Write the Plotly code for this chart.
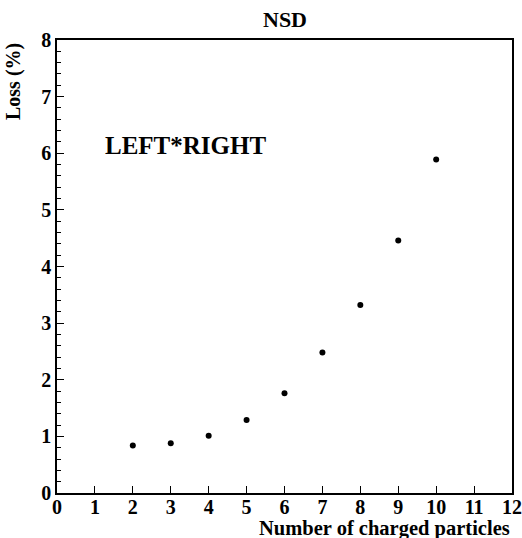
import plotly.graph_objects as go

# Loss vs. charged-particle multiplicity, NSD sample, LEFT*RIGHT trigger
n_charged = [2, 3, 4, 5, 6, 7, 8, 9, 10]
loss_pct = [0.84, 0.88, 1.01, 1.29, 1.76, 2.48, 3.32, 4.46, 5.89]

x_ticks = list(range(0, 13))
y_ticks = list(range(0, 9))

FONT = "Times New Roman"

fig = go.Figure()
fig.add_trace(go.Scatter(
    x=n_charged, y=loss_pct, mode="markers",
    marker=dict(color="black", size=6, symbol="circle"),
    showlegend=False, hoverinfo="skip",
))

fig.update_layout(
    width=522, height=538,
    margin=dict(l=57, r=10, t=40, b=45, autoexpand=False),
    paper_bgcolor="white", plot_bgcolor="white",
    font=dict(family=FONT, color="black", size=18),
    annotations=[
        dict(text="<b>NSD</b>", x=0.5, y=1.0, xref="paper", yref="paper",
             xanchor="center", yanchor="bottom", yshift=6, showarrow=False,
             font=dict(family=FONT, size=22)),
        dict(text="<b>Loss (%)</b>", x=0, y=1.0, xref="paper", yref="paper",
             xanchor="right", yanchor="top", xshift=-30, yshift=-1, textangle=-90,
             showarrow=False, font=dict(family=FONT, size=20)),
        dict(text="<b>Number of charged particles</b>", x=1.0, y=0, xref="paper",
             yref="paper", xanchor="right", yanchor="top", yshift=-22,
             showarrow=False, font=dict(family=FONT, size=20.5)),
        dict(text="<b>LEFT*RIGHT</b>", x=1.2, y=6.13, xref="x", yref="y",
             xanchor="left", yanchor="middle", showarrow=False,
             font=dict(family=FONT, size=25)),
    ],
)

fig.update_xaxes(
    range=[0, 12], tickvals=x_ticks, ticktext=[f"<b>{v}</b>" for v in x_ticks],
    ticks="inside", ticklen=7, tickwidth=1, tickcolor="black", automargin=False,
    ticklabelstandoff=-5,
    showline=True, linecolor="black", linewidth=1.5, mirror=True,
    showgrid=False, zeroline=False, tickfont=dict(family=FONT, size=20),
)
fig.update_yaxes(
    range=[0, 8], tickvals=y_ticks, ticktext=[f"<b>{v}</b>" for v in y_ticks],
    ticks="inside", ticklen=7, tickwidth=1, tickcolor="black", automargin=False,
    minor=dict(ticks="inside", ticklen=4, dtick=0.2, tickcolor="black", showgrid=False),
    showline=True, linecolor="black", linewidth=1.5, mirror=True,
    showgrid=False, zeroline=False, tickfont=dict(family=FONT, size=20),
)

fig.write_html("out.html")
